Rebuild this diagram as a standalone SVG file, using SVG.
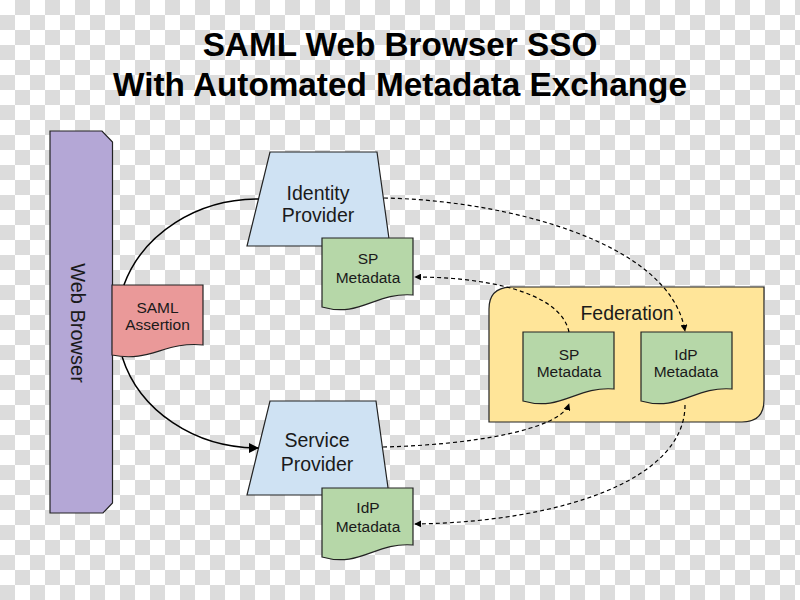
<svg xmlns="http://www.w3.org/2000/svg" width="800" height="600" viewBox="0 0 800 600">
<defs>
<pattern id="checker" width="30" height="30" patternUnits="userSpaceOnUse">
<rect width="30" height="30" fill="#ffffff"/>
<rect x="15" y="0" width="15" height="15" fill="#dcdcdc"/>
<rect x="0" y="15" width="15" height="15" fill="#dcdcdc"/>
</pattern>
<path id="doc" d="M0 0 H91 V57 C53 54 38 80 0 69 Z"/>
<marker id="arrow" viewBox="0 0 10 10" refX="9" refY="5" markerWidth="7" markerHeight="7" markerUnits="userSpaceOnUse" orient="auto">
<path d="M0 0 L10 5 L0 10 Z" fill="#000"/>
</marker>
<marker id="arrowBig" viewBox="0 0 10 10" refX="9" refY="5" markerWidth="11" markerHeight="10" markerUnits="userSpaceOnUse" orient="auto">
<path d="M0 0 L10 5 L0 10 Z" fill="#000"/>
</marker>
</defs>
<style>
.title{font-family:"Liberation Sans",Arial,sans-serif;font-weight:bold;font-size:33.3px;fill:#000;text-anchor:middle}
.lbl{font-family:"Liberation Sans",Arial,sans-serif;fill:#1a1a1a;text-anchor:middle}
.shape{stroke:#222;stroke-width:1.2}
.doc{fill:#b6d7a8;stroke:#222;stroke-width:1.2}
.dash{fill:none;stroke:#000;stroke-width:1.2;stroke-dasharray:4 3;marker-end:url(#arrow)}
.solid{fill:none;stroke:#000;stroke-width:1.5}
</style>
<rect width="800" height="600" fill="url(#checker)"/>
<g id="title">
<text class="title" x="400" y="56">SAML Web Browser SSO</text>
<text class="title" x="400" y="96">With Automated Metadata Exchange</text>
</g>
<g id="web-browser">
<path class="shape" fill="#b4a7d6" d="M50 131 H102 L112.5 142 V503 L103 513 H50 Z"/>
<text class="lbl" font-size="20" transform="translate(71 323) rotate(90)" fill="#1c1535">Web Browser</text>
</g>
<g id="saml-assertion">
<path class="shape" fill="#ea9999" d="M112 285 H203 V345 C165 341 150 363 112 355 Z"/>
<text class="lbl" font-size="15.5" x="157.5" y="312.5">SAML</text>
<text class="lbl" font-size="15.5" x="157.5" y="330">Assertion</text>
</g>
<g id="identity-provider">
<path class="shape" fill="#cfe2f3" d="M270 152 H377 L390 246 H247 Z"/>
<text class="lbl" font-size="19.5" x="318" y="200">Identity</text>
<text class="lbl" font-size="19.5" x="318" y="222">Provider</text>
</g>
<g id="sp-metadata-idp">
<use href="#doc" class="doc" transform="translate(322 238)"/>
<text class="lbl" font-size="15.5" x="368" y="264">SP</text>
<text class="lbl" font-size="15.5" x="368" y="283">Metadata</text>
</g>
<g id="service-provider">
<path class="shape" fill="#cfe2f3" d="M270 401 H376 L389 495 H247 Z"/>
<text class="lbl" font-size="19.5" x="317" y="447">Service</text>
<text class="lbl" font-size="19.5" x="317" y="471">Provider</text>
</g>
<g id="idp-metadata-sp">
<use href="#doc" class="doc" transform="translate(322 488)"/>
<text class="lbl" font-size="15.5" x="368" y="513">IdP</text>
<text class="lbl" font-size="15.5" x="368" y="532">Metadata</text>
</g>
<g id="federation">
<path class="shape" fill="#ffe599" d="M512 287 H764 V400 Q764 422 742 422 H489 V309 Q489 287 512 287 Z"/>
<text class="lbl" font-size="19.5" x="627" y="320">Federation</text>
</g>
<g id="fed-sp-metadata">
<use href="#doc" class="doc" transform="translate(523 332)"/>
<text class="lbl" font-size="15.5" x="569" y="360">SP</text>
<text class="lbl" font-size="15.5" x="569" y="377">Metadata</text>
</g>
<g id="fed-idp-metadata">
<use href="#doc" class="doc" transform="translate(641 332)"/>
<text class="lbl" font-size="15.5" x="686" y="360">IdP</text>
<text class="lbl" font-size="15.5" x="686" y="377">Metadata</text>
</g>
<g id="connectors">
<path class="solid" d="M258.5 199 A141 124.5 0 0 0 123.9 285"/>
<path class="solid" marker-end="url(#arrowBig)" d="M122.2 357 A141 124.5 0 0 0 258 448"/>
<path class="dash" d="M384 198 C500 200 670 240 685 331"/>
<path class="dash" d="M569 332 C560 290 480 277 415 277"/>
<path class="dash" d="M383 447 C470 445 560 430 569 404"/>
<path class="dash" d="M685 405 C685 480 560 522 415 524"/>
</g>
</svg>
